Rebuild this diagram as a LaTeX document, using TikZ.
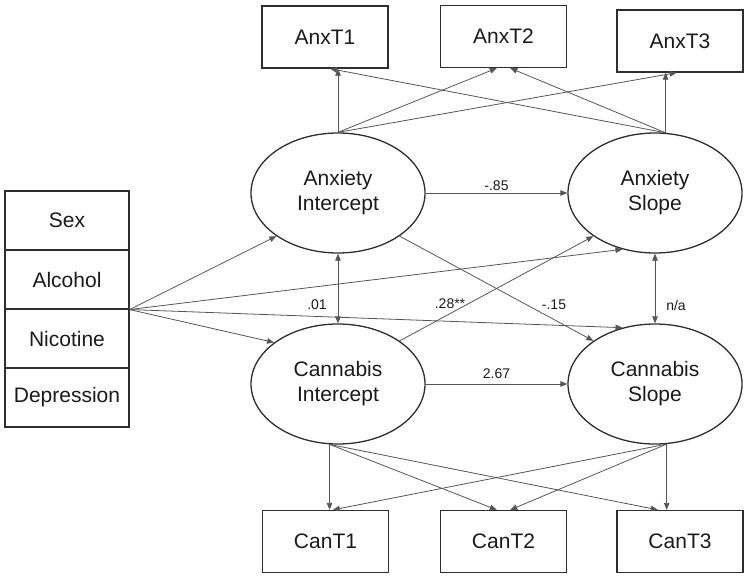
\documentclass[tikz,border=0pt]{standalone}
\usepackage{fontspec}
\setmainfont{Liberation Sans}
\usepackage{tikz}
\usetikzlibrary{shapes.geometric,arrows.meta}
\definecolor{edge}{HTML}{2E2E2E}
\definecolor{arrowgrey}{HTML}{555555}
\definecolor{ink}{HTML}{1A1A1A}

\begin{document}
\begin{tikzpicture}[x=1pt, y=-1pt,
  obs/.style={draw=edge, line width=1.3pt, minimum width=126pt, minimum height=62pt, inner sep=0pt, font=\fontsize{21}{25}\selectfont, text=ink},
  cov/.style={obs, minimum width=124pt, minimum height=59pt, line width=1.1pt},
  lat/.style={ellipse, draw=edge, line width=1.3pt, minimum width=174pt, minimum height=120pt, inner sep=0pt, align=center, font=\fontsize{21}{25}\selectfont, text=ink},
  reg/.style={-{Triangle[length=7pt,width=5.5pt]}, line width=0.8pt, draw=arrowgrey},
  cor/.style={reg, {Triangle[length=7pt,width=5.5pt]}-{Triangle[length=7pt,width=5.5pt]}},
  coef/.style={font=\fontsize{14}{16}\selectfont, text=ink, inner sep=2pt}
]
\useasboundingbox (0,0) rectangle (750,579);

% covariates
\node[cov] (sex) at (67,220.5) {Sex};
\node[cov] (alc) at (67,279.5) {Alcohol};
\node[cov] (nic) at (67,338.5) {Nicotine};
\node[cov] (dep) at (67,397.5) {Depression};

% growth factors
\node[lat] (ai) at (338,193) {Anxiety\\Intercept};
\node[lat] (as) at (655,193) {Anxiety\\Slope};
\node[lat] (ci) at (338,384) {Cannabis\\Intercept};
\node[lat] (cs) at (655,384) {Cannabis\\Slope};

% indicators
\node[obs] (a1) at (325,37) {AnxT1};
\node[obs] (a2) at (503.5,36.5) {AnxT2};
\node[obs] (a3) at (680,41) {AnxT3};
\node[obs] (c1) at (325.5,541.5) {CanT1};
\node[obs] (c2) at (503.5,541.5) {CanT2};
\node[obs] (c3) at (680,541.5) {CanT3};

% covariates to factors
\foreach \t in {ai.215, ci.147, as.240, cs.120}
  \draw[reg] (alc.south east) -- (\t);

% structural paths
\draw[reg] (ai) -- node[coef, above] {-.85} (as);
\draw[reg] (ci) -- node[coef, above=3pt] {2.67} (cs);
\draw[cor] (ai) -- (ci);
\draw[cor] (as) -- (cs);
\draw[reg] (ai.-35) -- (cs.145);
\draw[reg] (ci.35) -- (as.215);
\node[coef] (r1) at (317,305) {.01};
\node[coef] (r2) at (450,304) {.28**};
\node[coef] (r3) at (554,305) {-.15};
\node[coef] (r4) at (676,305) {n/a};

% anxiety loadings
\draw[reg] (ai.north) -- (ai.north |- a1.south);
\draw[reg] (ai.north) -- (a2.-102);
\draw[reg] (ai.north) -- (a3.-96);
\draw[reg] (as.80) -- (a1.-81);
\draw[reg] (as.80) -- (a2.-78);
\draw[reg] (as.80) -- (as.80 |- a3.south);

% cannabis loadings
\draw[reg] (ci.262) -- (ci.262 |- c1.north);
\draw[reg] (ci.262) -- (c2.102);
\draw[reg] (ci.262) -- (c3.125);
\draw[reg] (cs.281) -- (c1.77);
\draw[reg] (cs.281) -- (c2.78);
\draw[reg] (cs.281) -- (cs.281 |- c3.north);
\end{tikzpicture}
\end{document}
